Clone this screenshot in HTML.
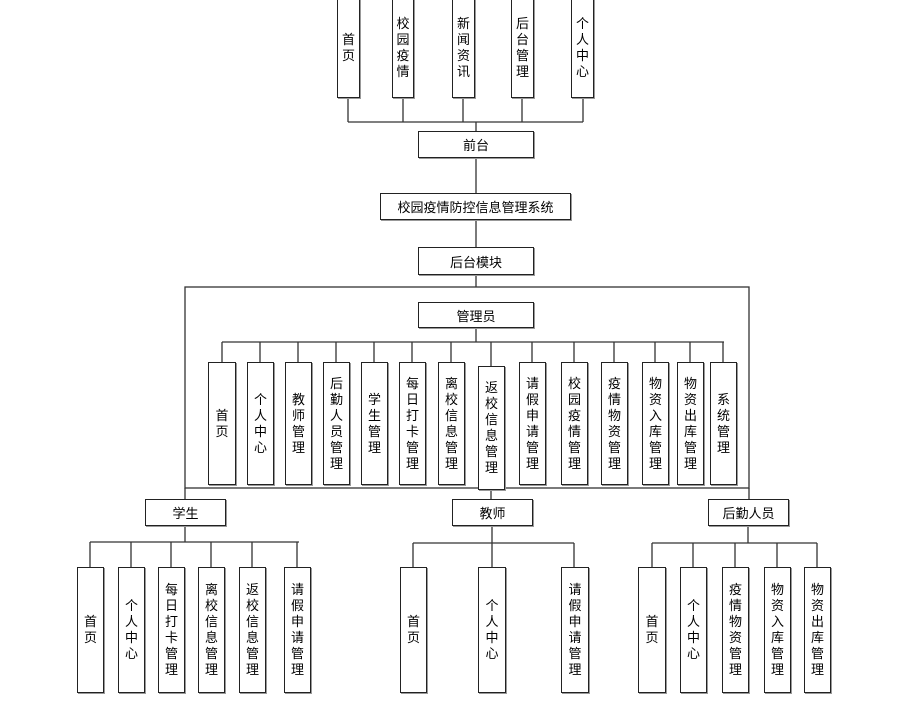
<!DOCTYPE html>
<html><head><meta charset="utf-8"><style>
html,body{margin:0;padding:0;background:#fff;}
body{width:915px;height:704px;position:relative;overflow:hidden;font-family:"Liberation Sans","Noto Sans CJK SC","WenQuanYi Zen Hei",sans-serif;font-size:13px;color:#000;}
svg{position:absolute;left:0;top:0;}
.b{position:absolute;box-sizing:border-box;border:1px solid #222;background:#fff;display:flex;align-items:center;justify-content:center;box-shadow:1px 1px 0 #999;}
.v span{display:block;width:13px;line-height:16px;text-align:center;word-break:break-all;}
</style></head><body>
<svg width="915" height="704">
<g stroke="#333" stroke-width="1.3" fill="none">
<!-- top -->
<path d="M348 98V122M403 98V122M463 98V122M522 98V122M583 98V122M348 122H583M476 122V131M476 158V193M476 220V247M476 275V287"/>
<rect x="185" y="287" width="564" height="201"/>
<path d="M476 328V342M222 342H724M222 342V362M260 342V362M298 342V362M336 342V362M374 342V362M412 342V362M451 342V362M491 342V366M532 342V362M574 342V362M614 342V362M655 342V362M690 342V362M723 342V362"/>
<path d="M185 488V500M749 488V500M491 490V500"/>
<!-- student -->
<path d="M185 526V542M90 542H299M90 542V567M131 542V567M171 542V567M211 542V567M252 542V567M297 542V567"/>
<path d="M492 526V543M413 543H574M413 543V567M492 543V567M574 543V567"/>
<path d="M748 526V543M652 543H817M652 543V567M693 543V567M735 543V567M777 543V567M817 543V567"/>
</g></svg>
<div class="b v" style="left:337px;top:-2px;width:23px;height:100px"><span>首页</span></div>
<div class="b v" style="left:392px;top:-2px;width:22px;height:100px"><span>校园疫情</span></div>
<div class="b v" style="left:452px;top:-2px;width:23px;height:100px"><span>新闻资讯</span></div>
<div class="b v" style="left:511px;top:-2px;width:23px;height:100px"><span>后台管理</span></div>
<div class="b v" style="left:571px;top:-2px;width:23px;height:100px"><span>个人中心</span></div>
<div class="b" style="left:418px;top:131px;width:116px;height:27px">前台</div>
<div class="b" style="left:380px;top:193px;width:191px;height:27px">校园疫情防控信息管理系统</div>
<div class="b" style="left:418px;top:247px;width:116px;height:28px">后台模块</div>
<div class="b" style="left:418px;top:302px;width:116px;height:26px">管理员</div>
<div class="b v" style="left:208px;top:362px;width:28px;height:123px"><span>首页</span></div>
<div class="b v" style="left:247px;top:362px;width:27px;height:123px"><span>个人中心</span></div>
<div class="b v" style="left:285px;top:362px;width:27px;height:123px"><span>教师管理</span></div>
<div class="b v" style="left:323px;top:362px;width:27px;height:123px"><span>后勤人员管理</span></div>
<div class="b v" style="left:361px;top:362px;width:27px;height:123px"><span>学生管理</span></div>
<div class="b v" style="left:399px;top:362px;width:27px;height:123px"><span>每日打卡管理</span></div>
<div class="b v" style="left:438px;top:362px;width:27px;height:123px"><span>离校信息管理</span></div>
<div class="b v" style="left:478px;top:366px;width:27px;height:124px"><span>返校信息管理</span></div>
<div class="b v" style="left:519px;top:362px;width:27px;height:123px"><span>请假申请管理</span></div>
<div class="b v" style="left:561px;top:362px;width:27px;height:123px"><span>校园疫情管理</span></div>
<div class="b v" style="left:601px;top:362px;width:27px;height:123px"><span>疫情物资管理</span></div>
<div class="b v" style="left:642px;top:362px;width:27px;height:123px"><span>物资入库管理</span></div>
<div class="b v" style="left:677px;top:362px;width:27px;height:123px"><span>物资出库管理</span></div>
<div class="b v" style="left:710px;top:362px;width:27px;height:123px"><span>系统管理</span></div>
<div class="b" style="left:145px;top:499px;width:81px;height:27px">学生</div>
<div class="b" style="left:452px;top:499px;width:81px;height:27px">教师</div>
<div class="b" style="left:708px;top:499px;width:81px;height:27px">后勤人员</div>
<div class="b v" style="left:77px;top:567px;width:27px;height:126px"><span>首页</span></div>
<div class="b v" style="left:118px;top:567px;width:27px;height:126px"><span>个人中心</span></div>
<div class="b v" style="left:158px;top:567px;width:27px;height:126px"><span>每日打卡管理</span></div>
<div class="b v" style="left:198px;top:567px;width:27px;height:126px"><span>离校信息管理</span></div>
<div class="b v" style="left:239px;top:567px;width:27px;height:126px"><span>返校信息管理</span></div>
<div class="b v" style="left:284px;top:567px;width:27px;height:126px"><span>请假申请管理</span></div>
<div class="b v" style="left:400px;top:567px;width:27px;height:126px"><span>首页</span></div>
<div class="b v" style="left:478px;top:567px;width:28px;height:126px"><span>个人中心</span></div>
<div class="b v" style="left:561px;top:567px;width:28px;height:126px"><span>请假申请管理</span></div>
<div class="b v" style="left:638px;top:567px;width:28px;height:126px"><span>首页</span></div>
<div class="b v" style="left:680px;top:567px;width:27px;height:126px"><span>个人中心</span></div>
<div class="b v" style="left:722px;top:567px;width:27px;height:126px"><span>疫情物资管理</span></div>
<div class="b v" style="left:764px;top:567px;width:27px;height:126px"><span>物资入库管理</span></div>
<div class="b v" style="left:804px;top:567px;width:27px;height:126px"><span>物资出库管理</span></div>
</body></html>
